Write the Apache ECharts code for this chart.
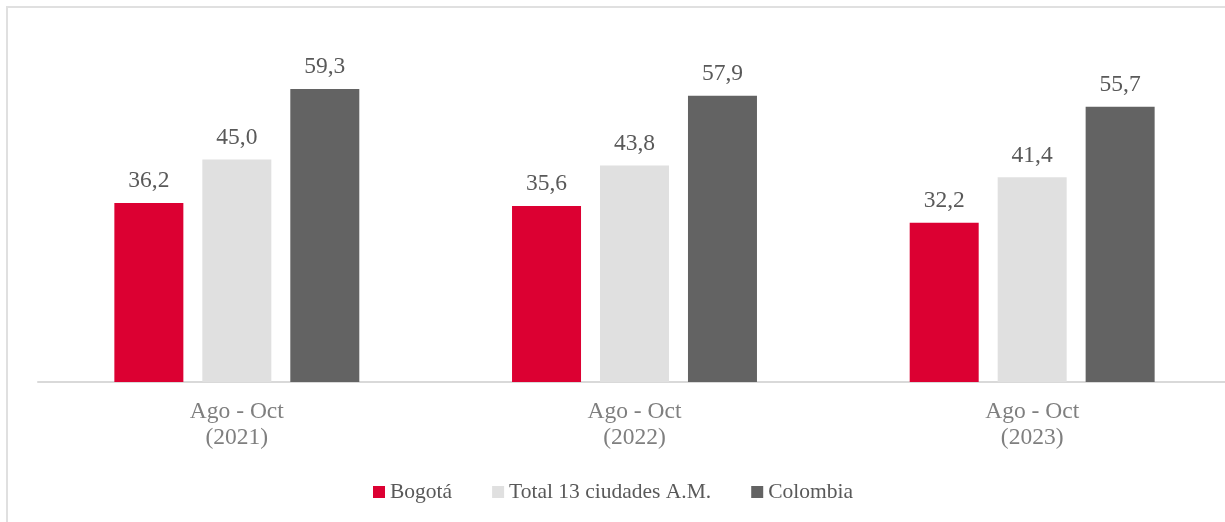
<!DOCTYPE html>
<html>
<head>
<meta charset="utf-8">
<script src="https://cdn.jsdelivr.net/npm/echarts@6/dist/echarts.min.js"></script>
<style>
  html, body { margin: 0; padding: 0; background: #ffffff; overflow: hidden; width: 1225px; height: 522px; }
  #frame { position: absolute; left: 6px; top: 6px; width: 1240px; height: 540px; border: 2px solid #e0e0e0; box-sizing: border-box; }
  #chart { position: absolute; left: 0; top: 0; width: 1240px; height: 522px; }
</style>
</head>
<body>
<div id="frame"></div>
<div id="chart"></div>
<script>
// Periods and series values (percent)
const categories = ['Ago - Oct\n(2021)', 'Ago - Oct\n(2022)', 'Ago - Oct\n(2023)'];
const seriesNames = ['Bogotá', 'Total 13 ciudades A.M.', 'Colombia'];
const bogota = [36.2, 35.6, 32.2];
const total13 = [45.0, 43.8, 41.4];
const colombia = [59.3, 57.9, 55.7];
const seriesColors = ['#dc0032', '#e0e0e0', '#636363'];

const fontFamily = '"Liberation Serif", "Times New Roman", serif';

function fmt(v) { return v.toFixed(1).replace('.', ','); }

function barSeries(name, data, color) {
  return {
    name: name,
    type: 'bar',
    data: data,
    barWidth: 69,
    barGap: '27.5%',
    itemStyle: { color: color },
    label: {
      show: true,
      position: 'top',
      distance: 10,
      formatter: p => fmt(p.value),
      fontFamily: fontFamily,
      fontSize: 23.5,
      color: '#595959'
    }
  };
}

const chart = echarts.init(document.getElementById('chart'), null, { renderer: 'canvas' });
chart.setOption({
  backgroundColor: 'transparent',
  animation: false,
  grid: { left: 38, top: 36, width: 1193, height: 346, containLabel: false },
  legend: {
    bottom: 19,
    left: 373,
    padding: 0,
    itemWidth: 12,
    itemHeight: 12,
    itemGap: 40,
    icon: 'rect',
    textStyle: { fontFamily: fontFamily, fontSize: 21.5, color: '#595959' },
    data: seriesNames
  },
  xAxis: {
    type: 'category',
    data: categories,
    axisLine: { lineStyle: { color: '#d9d9d9', width: 2 } },
    axisTick: { show: false },
    axisLabel: {
      fontFamily: fontFamily,
      fontSize: 23.5,
      lineHeight: 26,
      color: '#7f7f7f',
      margin: 17
    }
  },
  yAxis: {
    type: 'value',
    min: 0,
    max: 70,
    show: false,
    splitLine: { show: false }
  },
  series: [
    barSeries(seriesNames[0], bogota, seriesColors[0]),
    barSeries(seriesNames[1], total13, seriesColors[1]),
    barSeries(seriesNames[2], colombia, seriesColors[2])
  ]
});
</script>
</body>
</html>
